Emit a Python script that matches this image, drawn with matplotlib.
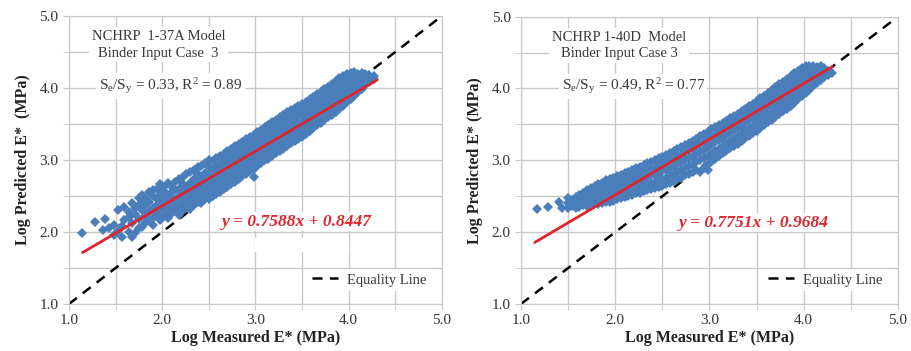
import matplotlib
matplotlib.use("Agg")
import matplotlib.pyplot as plt
from matplotlib.patches import Rectangle
from matplotlib.ticker import MultipleLocator

plt.rcParams["font.family"] = ["Liberation Serif", "DejaVu Serif"]
plt.rcParams["mathtext.fontset"] = "custom"
plt.rcParams["mathtext.rm"] = "Liberation Serif"
plt.rcParams["mathtext.it"] = "Liberation Serif:italic"

# NCHRP 1-37A model: log measured E* and the predicted values at each
meas_37a = [1.14, 1.28, 1.36, 1.39, 1.43, 1.48, 1.53, 1.57, 1.59, 1.64, 1.68, 1.71,
            1.75, 1.78, 1.82, 1.86, 1.90, 1.94, 1.98, 2.02, 2.06, 2.10, 2.14, 2.18,
            2.22, 2.26, 2.30, 2.34, 2.38, 2.42, 2.46, 2.50, 2.54, 2.58, 2.62, 2.66,
            2.70, 2.74, 2.78, 2.82, 2.86, 2.90, 2.94, 2.98, 3.02, 3.06, 3.10, 3.14,
            3.18, 3.22, 3.26, 3.30, 3.34, 3.38, 3.42, 3.46, 3.50, 3.54, 3.58, 3.62,
            3.66, 3.70, 3.74, 3.78, 3.82, 3.86, 3.90, 3.94, 3.98, 4.02, 4.06, 4.10,
            4.14, 4.18, 4.22, 4.27]
pred_37a = [
    [1.98], [2.14], [2.03], [2.18], [2.05], [2.10, 1.96], [2.31, 2.02],
    [1.93, 2.08], [2.35, 2.17], [2.21, 2.00, 2.28], [2.40, 1.93, 2.12],
    [1.99, 2.25, 2.33], [2.47, 2.18, 2.05, 2.38], [2.07, 2.30, 2.42, 2.52],
    [2.12, 2.22, 2.36, 2.47], [2.15, 2.28, 2.42, 2.55],
    [2.10, 2.20, 2.33, 2.50, 2.58], [2.25, 2.38, 2.46, 2.60],
    [2.16, 2.30, 2.41, 2.52, 2.66], [2.22, 2.35, 2.45, 2.57, 2.63],
    [2.20, 2.28, 2.40, 2.50, 2.68], [2.26, 2.33, 2.47, 2.55, 2.62],
    [2.30, 2.38, 2.44, 2.58, 2.70], [2.24, 2.36, 2.50, 2.60, 2.73],
    [2.30, 2.42, 2.48, 2.56, 2.66, 2.76], [2.35, 2.45, 2.54, 2.62, 2.80],
    [2.32, 2.40, 2.50, 2.58, 2.68, 2.83], [2.38, 2.46, 2.55, 2.64, 2.74, 2.86],
    [2.42, 2.52, 2.60, 2.70, 2.80, 2.90], [2.40, 2.48, 2.56, 2.66, 2.76, 2.92],
    [2.46, 2.55, 2.62, 2.72, 2.82, 2.96], [2.46, 2.54, 2.62, 2.71, 2.80, 2.90, 3.00],
    [2.50, 2.58, 2.66, 2.76, 2.86, 2.98], [2.53, 2.62, 2.70, 2.80, 2.92, 3.03],
    [2.56, 2.66, 2.74, 2.84, 2.95, 3.05], [2.60, 2.70, 2.80, 2.88, 2.98, 3.08],
    [2.62, 2.72, 2.82, 2.92, 3.02, 3.12], [2.66, 2.76, 2.86, 2.96, 3.06, 3.15],
    [2.70, 2.80, 2.90, 3.00, 3.10, 3.19], [2.74, 2.84, 2.94, 3.04, 3.14, 3.22],
    [2.78, 2.88, 2.98, 3.07, 3.17, 3.25], [2.80, 2.92, 3.02, 3.10, 3.20, 3.29],
    [2.84, 2.95, 3.05, 3.14, 3.24, 3.32], [2.77, 2.88, 2.98, 3.08, 3.18, 3.28, 3.35],
    [2.92, 3.02, 3.12, 3.22, 3.32, 3.39], [2.96, 3.06, 3.16, 3.26, 3.35, 3.42],
    [3.00, 3.10, 3.20, 3.30, 3.39, 3.46], [3.02, 3.12, 3.22, 3.32, 3.42, 3.49],
    [3.06, 3.16, 3.26, 3.36, 3.45, 3.53], [3.09, 3.19, 3.29, 3.39, 3.48, 3.56],
    [3.12, 3.22, 3.32, 3.42, 3.52, 3.60], [3.15, 3.25, 3.35, 3.45, 3.55, 3.63],
    [3.19, 3.29, 3.39, 3.49, 3.58, 3.66], [3.23, 3.33, 3.43, 3.53, 3.62, 3.69],
    [3.26, 3.36, 3.46, 3.56, 3.65, 3.72], [3.29, 3.39, 3.49, 3.59, 3.68, 3.75],
    [3.32, 3.42, 3.52, 3.62, 3.71, 3.78], [3.36, 3.46, 3.56, 3.65, 3.74, 3.81],
    [3.40, 3.50, 3.59, 3.68, 3.77, 3.84], [3.44, 3.54, 3.63, 3.72, 3.80, 3.88],
    [3.48, 3.58, 3.67, 3.76, 3.84, 3.91], [3.52, 3.62, 3.71, 3.80, 3.88, 3.95],
    [3.55, 3.65, 3.75, 3.84, 3.92, 3.98], [3.59, 3.69, 3.79, 3.88, 3.96, 4.02],
    [3.63, 3.73, 3.83, 3.92, 4.00, 4.06], [3.67, 3.77, 3.87, 3.96, 4.04, 4.10],
    [3.71, 3.81, 3.91, 4.00, 4.08, 4.14], [3.75, 3.85, 3.95, 4.04, 4.11, 4.17],
    [3.80, 3.90, 3.99, 4.07, 4.14, 4.19], [3.84, 3.94, 4.03, 4.10, 4.17, 4.21],
    [3.89, 3.98, 4.06, 4.13, 4.19, 4.22], [3.94, 4.02, 4.09, 4.15, 4.20],
    [3.99, 4.06, 4.12, 4.17, 4.21], [4.04, 4.10, 4.15, 4.19], [4.08, 4.14, 4.18],
    [4.12, 4.16],
]

# NCHRP 1-40D model
meas_40d = [1.17, 1.29, 1.40, 1.44, 1.50, 1.54, 1.58, 1.62, 1.66, 1.70, 1.74, 1.78,
            1.82, 1.86, 1.90, 1.94, 1.98, 2.02, 2.06, 2.10, 2.14, 2.18, 2.22, 2.26,
            2.30, 2.34, 2.38, 2.42, 2.46, 2.50, 2.54, 2.58, 2.62, 2.66, 2.70, 2.74,
            2.78, 2.82, 2.86, 2.90, 2.94, 2.98, 3.02, 3.06, 3.10, 3.14, 3.18, 3.22,
            3.26, 3.30, 3.34, 3.38, 3.42, 3.46, 3.50, 3.54, 3.58, 3.62, 3.66, 3.70,
            3.74, 3.78, 3.82, 3.86, 3.90, 3.94, 3.98, 4.02, 4.06, 4.10, 4.14, 4.18,
            4.22, 4.26, 4.30]
pred_40d = [
    [2.32], [2.35], [2.42], [2.33], [2.33, 2.40, 2.47], [2.36, 2.45],
    [2.34, 2.42, 2.49], [2.35, 2.44, 2.52], [2.38, 2.47, 2.55],
    [2.37, 2.44, 2.52, 2.59], [2.38, 2.46, 2.54, 2.61], [2.40, 2.48, 2.56, 2.64],
    [2.39, 2.46, 2.54, 2.61, 2.67], [2.41, 2.48, 2.56, 2.63, 2.69],
    [2.42, 2.50, 2.58, 2.65, 2.72], [2.42, 2.49, 2.57, 2.65, 2.74],
    [2.44, 2.52, 2.60, 2.68, 2.76], [2.46, 2.53, 2.61, 2.70, 2.78],
    [2.47, 2.55, 2.63, 2.71, 2.80], [2.49, 2.57, 2.65, 2.73, 2.82],
    [2.51, 2.59, 2.67, 2.75, 2.84], [2.52, 2.61, 2.70, 2.78, 2.86],
    [2.54, 2.62, 2.71, 2.80, 2.89], [2.55, 2.64, 2.73, 2.82, 2.91],
    [2.57, 2.65, 2.75, 2.84, 2.93], [2.58, 2.67, 2.77, 2.86, 2.96],
    [2.60, 2.69, 2.79, 2.88, 2.98], [2.61, 2.70, 2.80, 2.90, 3.00],
    [2.63, 2.72, 2.83, 2.93, 3.03], [2.64, 2.74, 2.85, 2.95, 3.05],
    [2.67, 2.76, 2.87, 2.97, 3.08], [2.69, 2.79, 2.90, 3.00, 3.10],
    [2.71, 2.81, 2.92, 3.02, 3.13], [2.74, 2.84, 2.95, 3.05, 3.16],
    [2.76, 2.86, 2.97, 3.08, 3.18], [2.79, 2.89, 3.00, 3.11, 3.21],
    [2.81, 2.92, 3.03, 3.14, 3.24], [2.84, 2.95, 3.06, 3.17, 3.27],
    [2.87, 2.98, 3.09, 3.20, 3.30], [2.84, 3.00, 3.12, 3.23, 3.34],
    [2.90, 3.03, 3.15, 3.26, 3.37], [2.86, 2.95, 3.06, 3.18, 3.29, 3.40],
    [2.98, 3.09, 3.21, 3.32, 3.43], [3.02, 3.13, 3.25, 3.35, 3.46],
    [3.06, 3.16, 3.28, 3.39, 3.49], [3.10, 3.20, 3.32, 3.42, 3.52],
    [3.13, 3.24, 3.35, 3.46, 3.55], [3.17, 3.27, 3.38, 3.49, 3.59],
    [3.20, 3.30, 3.42, 3.52, 3.62], [3.23, 3.34, 3.45, 3.55, 3.65],
    [3.27, 3.37, 3.48, 3.59, 3.68], [3.31, 3.41, 3.52, 3.62, 3.72],
    [3.34, 3.44, 3.56, 3.66, 3.76], [3.38, 3.48, 3.59, 3.69, 3.79],
    [3.41, 3.52, 3.63, 3.73, 3.83], [3.45, 3.55, 3.66, 3.77, 3.87],
    [3.49, 3.59, 3.70, 3.80, 3.90], [3.53, 3.63, 3.74, 3.84, 3.94],
    [3.56, 3.66, 3.78, 3.88, 3.98], [3.60, 3.70, 3.81, 3.92, 4.02],
    [3.64, 3.74, 3.85, 3.96, 4.06], [3.68, 3.78, 3.89, 3.99, 4.09],
    [3.72, 3.82, 3.93, 4.03, 4.13], [3.76, 3.86, 3.97, 4.07, 4.17],
    [3.80, 3.90, 4.01, 4.11, 4.21], [3.85, 3.94, 4.05, 4.15, 4.25],
    [3.89, 3.98, 4.09, 4.19, 4.28], [3.94, 4.03, 4.13, 4.22, 4.31],
    [3.98, 4.07, 4.17, 4.25, 4.32], [4.03, 4.11, 4.20, 4.28, 4.32],
    [4.08, 4.15, 4.23, 4.30], [4.12, 4.19, 4.26, 4.31], [4.16, 4.23, 4.28],
    [4.19, 4.25], [4.22],
]

# fitted lines: slope, intercept, x range
fit_37a = (0.7588, 0.8447)
fit_40d = (0.7751, 0.9684)
fit_range = (1.15, 4.30)

BLUE = "#4a7ebb"
RED = "#e0242b"
GRID = "#c8c8c8"


def flatten(meas, pred):
    xs, ys = [], []
    for x, col in zip(meas, pred):
        for y in col:
            xs.append(x)
            ys.append(y)
    return xs, ys


def draw_panel(ax, meas, pred, fit, title, stats, eq_xy, ylabel, blank_box=False):
    xs, ys = flatten(meas, pred)

    ax.set_xlim(1, 5)
    ax.set_ylim(1, 5)
    ax.xaxis.set_major_locator(MultipleLocator(1))
    ax.yaxis.set_major_locator(MultipleLocator(1))
    ax.xaxis.set_minor_locator(MultipleLocator(0.5))
    ax.yaxis.set_minor_locator(MultipleLocator(0.5))
    ax.xaxis.set_major_formatter("{x:.1f}")
    ax.yaxis.set_major_formatter("{x:.1f}")
    ax.grid(which="both", color=GRID, linewidth=1)
    ax.set_axisbelow(True)
    for side in ax.spines.values():
        side.set_color(GRID)
    ax.tick_params(which="both", length=4, color=GRID, labelsize=11,
                   labelcolor="#333333")

    # equality line sits under the points
    ax.plot([1, 5], [1, 5], "--", color="black", linewidth=1.8,
            dashes=(4, 3), zorder=2.5, label="Equality Line")

    # measured vs predicted
    ax.plot(xs, ys, "D", color=BLUE, markersize=5.6, markeredgewidth=0, zorder=3)

    # linear fit
    slope, icpt = fit
    fx = list(fit_range)
    ax.plot(fx, [slope * v + icpt for v in fx], color=RED, linewidth=2, zorder=5)

    ax.text(eq_xy[0], eq_xy[1], f"y = {slope}x + {icpt}", color=RED,
            fontsize=12.5, fontweight="bold", fontstyle="italic",
            ha="left", va="center", zorder=6,
            bbox=dict(facecolor="white", edgecolor="none", pad=1))
    if blank_box:
        ax.add_patch(Rectangle((3.0, 1.72), 1.0, 0.2, facecolor="white",
                               edgecolor="none", zorder=2))

    box = dict(facecolor="white", edgecolor="none", pad=2)
    ax.text(title[0], 4.60, title[1], fontsize=10.5, color="#383838",
            ha="center", va="center", linespacing=1.35, bbox=box, zorder=6)
    ax.text(stats[0], 4.03, stats[1], fontsize=11, color="#383838",
            ha="center", va="center", bbox=box, zorder=6)

    leg = ax.legend(loc="lower right", bbox_to_anchor=(0.99, 0.02), fontsize=10.5,
                    handlelength=1.8, frameon=True, fancybox=False,
                    borderpad=0.3, handletextpad=0.6)
    leg.get_frame().set_edgecolor("none")
    leg.get_frame().set_alpha(1)
    for t in leg.get_texts():
        t.set_color("#383838")

    ax.set_xlabel("Log Measured E* (MPa)", fontsize=11.5, fontweight="bold",
                  color="#222222", labelpad=2)
    ax.set_ylabel(ylabel, fontsize=11.5, fontweight="bold", color="#222222",
                  labelpad=6)


fig = plt.figure(figsize=(9.11, 3.51), dpi=100)
ax1 = fig.add_axes([0.0757, 0.134, 0.4094, 0.8205])
ax2 = fig.add_axes([0.5719, 0.134, 0.4138, 0.8185])

draw_panel(ax1, meas_37a, pred_37a, fit_37a,
           (1.96, "NCHRP  1-37A Model\nBinder Input Case  3"),
           (2.09, r"S$_\mathregular{e}$/S$_\mathregular{y}$ = 0.33, R$^\mathregular{2}$ = 0.89"),
           (2.64, 2.14), "Log Predicted E*  (MPa)", blank_box=True)
draw_panel(ax2, meas_40d, pred_40d, fit_40d,
           (2.04, "NCHRP 1-40D  Model\nBinder Input Case 3"),
           (2.19, r"S$_\mathregular{e}$/S$_\mathregular{y}$ = 0.49, R$^\mathregular{2}$ = 0.77"),
           (2.67, 2.13), "Log Predicted E* (MPa)")

fig.savefig("out.png", dpi=100)
